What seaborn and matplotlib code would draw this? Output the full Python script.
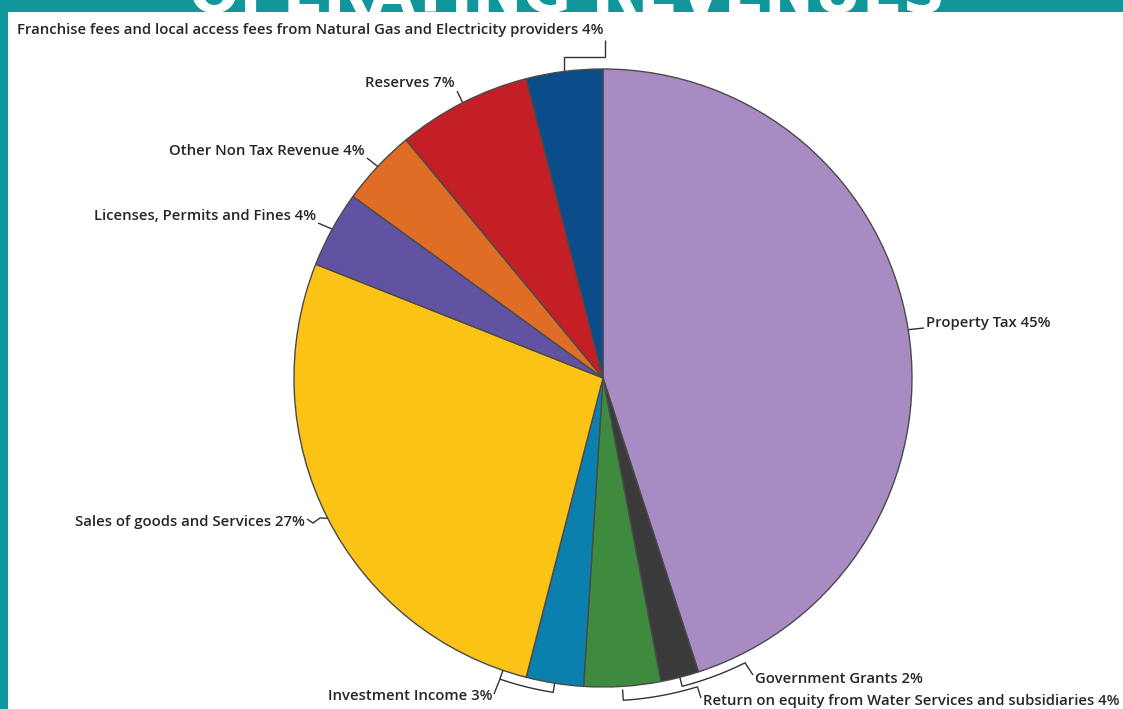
import numpy as np
import matplotlib
matplotlib.use("Agg")
import matplotlib.pyplot as plt
import seaborn as sns
from matplotlib.patches import Rectangle

# ---------------- data ----------------
categories = [
    "Property Tax",
    "Government Grants",
    "Return on equity from Water Services and subsidiaries",
    "Investment Income",
    "Sales of goods and Services",
    "Licenses, Permits and Fines",
    "Other Non Tax Revenue",
    "Reserves",
    "Franchise fees and local access fees from Natural Gas and Electricity providers",
]
shares = [45, 2, 4, 3, 27, 4, 4, 7, 4]
slice_colors = ["#a88bc3", "#3a3a3a", "#3e8a3e", "#0b80ae", "#fbc315",
                "#6153a2", "#e06d25", "#c41f27", "#0b4c8a"]
title_text = "OPERATING REVENUES"

# ---------------- layout ----------------
W, H = 1123, 709
CX, CY, R = 603, 378, 309  # pie centre / radius in pixels
TEAL = "#11969b"
TXT = "#262626"


def P(x, y):
    return ((x - CX) / R, (CY - y) / R)


def pol(a, r):
    return (r * np.cos(np.radians(a)), r * np.sin(np.radians(a)))


sns.set_theme(style="white")
plt.rcParams["font.family"] = ["Open Sans", "DejaVu Sans"]

fig = plt.figure(figsize=(W / 100, H / 100), dpi=100, facecolor=TEAL)
ax = fig.add_axes([0, 0, 1, 1])

palette = sns.color_palette(slice_colors)
wedges, _ = ax.pie(shares, colors=palette, startangle=90, counterclock=False,
                   radius=1.0,
                   wedgeprops=dict(edgecolor="#4a4a4a", linewidth=1.0, zorder=2))
ax.set_aspect("auto")
ax.set_xlim(-CX / R, (W - CX) / R)
ax.set_ylim(-(H - CY) / R, CY / R)
ax.axis("off")

# white panel
x0, y0 = P(8, H)
ax.add_patch(Rectangle((x0, y0), (W - 8) / R, (H - 12) / R, facecolor="white",
                       edgecolor="none", zorder=1))

# cropped title (only its lower part shows in the teal band)
tx, ty = P((190 + 945) / 2, 12.5)
t = ax.text(tx, ty, title_text, ha="center", va="baseline", color="white",
            fontsize=40, fontweight="bold", family="DejaVu Sans", zorder=0.5)
fig.canvas.draw()
wpx = t.get_window_extent(fig.canvas.get_renderer()).width
t.set_fontsize(40 * (945 - 190) / wpx)

mids = [(w.theta1 + w.theta2) / 2 for w in wedges]
labels = [f"{c} {v}%" for c, v in zip(categories, shares)]

label_pos = [((926, 323), "left"), ((755, 679), "left"), ((703, 701), "left"),
             ((493, 696), "right"), ((305, 522), "right"), ((316, 216), "right"),
             ((365, 151), "right"), ((455, 83), "right"), ((604, 30), "right")]

for lab, ((px, py), ha) in zip(labels, label_pos):
    ax.text(*P(px, py), lab, ha=ha, va="center", fontsize=10.7, color=TXT,
            fontweight="semibold", zorder=5)


def line(pts):
    xs, ys = zip(*pts)
    ax.plot(xs, ys, color="#333333", lw=1.0, solid_joinstyle="miter",
            solid_capstyle="butt", zorder=4)


def arc(a1, a2, r):
    aa = np.linspace(a1, a2, 30)
    return [pol(a, r) for a in aa]


# Property Tax
line([pol(mids[0], 1.0), P(924, 328)])
# Reserves, Other, Licenses
line([pol(mids[7], 1.0), P(457, 91)])
line([pol(mids[6], 1.0), P(367, 158)])
line([pol(mids[5], 1.0), P(318, 223)])
# Sales (small wiggle)
line([P(307, 519), P(313, 523), P(320, 518), pol(mids[4], 1.0)])
# Franchise
mx, my = pol(mids[8], 1.0)
ylev = P(0, 57)[1]
line([(mx, my), (mx, ylev), (P(605, 0)[0], ylev), P(605, 40)])
# Government Grants bracket
line([pol(-75.6, 1.0)] + arc(-75.6, -63.5, 1.03) + [P(753, 675)])
# Return on equity bracket
line([pol(-86.4, 1.01)] + arc(-86.4, -73.0, 1.045) + [P(701, 698)])
# Investment Income bracket
line([P(494, 694)] + arc(-108.9, -99.0, 1.03) + [pol(-99.0, 1.0)])
line([pol(-108.9, 1.0), pol(-108.9, 1.03)])

fig.savefig("out.png", dpi=100, facecolor=fig.get_facecolor())
